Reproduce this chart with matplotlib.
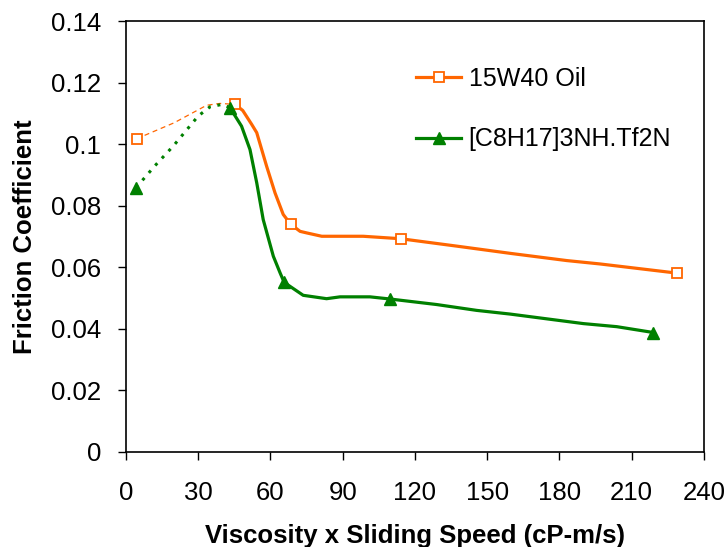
import matplotlib
matplotlib.use("Agg")
import matplotlib.pyplot as plt
from matplotlib.lines import Line2D

plt.rcParams['font.family'] = ['Liberation Sans', 'DejaVu Sans']

# 15W40 Oil: measured points (markers) and smooth curve points
oil_mx = [4.4, 45.3, 68.4, 114.1, 229.0]
oil_my = [0.1018, 0.1130, 0.0740, 0.0693, 0.0581]
oil_dash_x = [4.4, 20.0, 33.5, 39.0, 45.3]
oil_dash_y = [0.1018, 0.1070, 0.1127, 0.1133, 0.1130]
oil_cx = [45.3, 48.5, 52.2, 54.3, 58.4, 61.9, 65.3, 68.4, 72.3, 75.0, 81.3, 98.5, 114.1, 137.3, 160.0, 183.0, 196.8, 229.0]
oil_cy = [0.1130, 0.1110, 0.1065, 0.1038, 0.0929, 0.0842, 0.0772, 0.0740, 0.0717, 0.0712, 0.0701, 0.0701, 0.0693, 0.0669, 0.0645, 0.0622, 0.0611, 0.0581]

# [C8H17]3NH.Tf2N
il_mx = [4.2, 43.2, 65.7, 109.6, 219.0]
il_my = [0.0859, 0.1119, 0.0551, 0.0497, 0.0388]
il_dot_x = [4.2, 12.0, 19.6, 30.0, 34.9, 40.0, 43.2]
il_dot_y = [0.0859, 0.0930, 0.0994, 0.1092, 0.1122, 0.1130, 0.1119]
il_cx = [43.2, 48.0, 51.5, 54.3, 57.0, 61.2, 64.0, 65.7, 73.6, 83.3, 88.9, 101.3, 109.6, 129.0, 145.6, 159.5, 189.9, 203.8, 219.0]
il_cy = [0.1119, 0.1059, 0.0983, 0.0875, 0.0755, 0.0636, 0.0582, 0.0551, 0.0509, 0.0498, 0.0504, 0.0504, 0.0497, 0.0479, 0.0460, 0.0448, 0.0417, 0.0407, 0.0388]

labels = ['15W40 Oil', '[C8H17]3NH.Tf2N']
xticks = [0, 30, 60, 90, 120, 150, 180, 210, 240]
yticks = [0, 0.02, 0.04, 0.06, 0.08, 0.1, 0.12, 0.14]
yticklabels = ['0', '0.02', '0.04', '0.06', '0.08', '0.1', '0.12', '0.14']

orange = '#FF6600'
green = '#008000'

fig = plt.figure(figsize=(7.28, 5.47), dpi=100)
ax = fig.add_axes([0.173, 0.174, 0.794, 0.787])

ax.plot(oil_dash_x, oil_dash_y, color=orange, lw=0.9, ls=(0, (4, 3)), zorder=2)
ax.plot(il_dot_x, il_dot_y, color=green, lw=2.2, ls=(0, (1, 2.2)), zorder=2)
ax.plot(oil_cx, oil_cy, color=orange, lw=2.3, zorder=3)
ax.plot(il_cx, il_cy, color=green, lw=2.3, zorder=3)
ax.plot(oil_mx, oil_my, ls='none', marker='s', ms=7, mfc='white', mec=orange, mew=1.3, zorder=4)
ax.plot(il_mx, il_my, ls='none', marker='^', ms=9, mfc=green, mec=green, zorder=4)

ax.set_xlim(0, 240)
ax.set_ylim(0, 0.14)
ax.set_xticks(xticks)
ax.set_xticklabels([str(v) for v in xticks])
ax.set_yticks(yticks)
ax.set_yticklabels(yticklabels)
ax.tick_params(axis='both', direction='out', length=6, width=1, labelsize=18.5, colors='black')
ax.tick_params(axis='x', pad=15)
ax.tick_params(axis='y', pad=12)
for s in ax.spines.values():
    s.set_linewidth(1.2)
    s.set_color('black')

ax.set_xlabel('Viscosity x Sliding Speed (cP-m/s)', fontsize=18.5, fontweight='bold', labelpad=14)
ax.set_ylabel('Friction Coefficient', fontsize=18.5, fontweight='bold', labelpad=10)

handles = [
    Line2D([], [], color=orange, lw=2.3, marker='s', ms=7, mfc='white', mec=orange, mew=1.3),
    Line2D([], [], color=green, lw=2.3, marker='^', ms=9, mfc=green, mec=green),
]
ax.legend(handles, labels, loc='upper left', bbox_to_anchor=(0.463, 0.947), frameon=False,
          fontsize=18, handlelength=1.8, handletextpad=0.3, labelspacing=1.47, numpoints=1)

fig.savefig('out.png', dpi=100)
